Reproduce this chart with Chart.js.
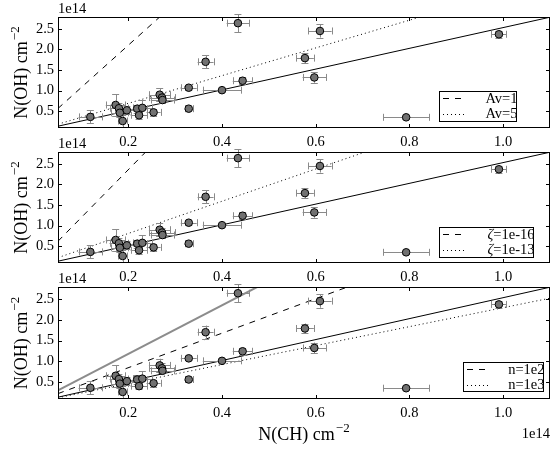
<!DOCTYPE html>
<html>
<head>
<meta charset="utf-8">
<script src="https://cdn.jsdelivr.net/npm/chart.js@4.4.0/dist/chart.umd.min.js"></script>
<style>
  body { margin: 0; background: #fff; }
  #wrap { position: relative; width: 555px; height: 451px; }
  canvas { position: absolute; left: 0; top: 0; }
</style>
</head>
<body>
<div id="wrap">
  <canvas id="c1" width="555" height="451"></canvas>
  <canvas id="c2" width="555" height="451"></canvas>
  <canvas id="c3" width="555" height="451"></canvas>
</div>
<script>
// ===== DATA (both axes in units of 1e14 cm^-2) =====
const nCH   = [0.119, 0.173, 0.180, 0.182, 0.188, 0.197, 0.219, 0.223, 0.230, 0.254, 0.267, 0.272,
               0.273, 0.329, 0.329, 0.365, 0.400, 0.434, 0.444, 0.577, 0.597, 0.609, 0.793, 0.991];
const nOH   = [0.36, 0.65, 0.57, 0.46, 0.26, 0.52, 0.56, 0.40, 0.58, 0.47, 0.90, 0.83,
               0.77, 1.07, 0.56, 1.70, 1.01, 2.64, 1.24, 1.79, 1.32, 2.45, 0.35, 2.37];
const errCH = [0.025, 0.021, 0.020, 0.018, 0.010, 0.025, 0.020, 0.018, 0.020, 0.015, 0.023, 0.027,
               0.025, 0.017, 0.009, 0.017, 0.041, 0.024, 0.021, 0.019, 0.025, 0.025, 0.049, 0.016];
const errOH = [0.16, 0.26, 0.12, 0.10, 0.15, 0.10, 0.10, 0.08, 0.18, 0.08, 0.16, 0.12,
               0.06, 0.05, 0.03, 0.16, 0.03, 0.22, 0.08, 0.12, 0.13, 0.16, 0.03, 0.09];

const xTicks = [0.2, 0.4, 0.6, 0.8, 1.0];
const yTicks = [0.5, 1.0, 1.5, 2.0, 2.5];

// model lines, end points
const fitLine    = [{ x: 0.05, y: 0.134 }, { x: 1.1, y: 2.785 }];
const av1Line    = [{ x: 0.05, y: 0.566 }, { x: 0.268, y: 2.8 }];
const av5Line    = [{ x: 0.05, y: 0.183 }, { x: 0.826, y: 2.8 }];
const zeta16Line = [{ x: 0.05, y: 0.62 }, { x: 0.238, y: 2.8 }];
const zeta13Line = [{ x: 0.05, y: 0.22 }, { x: 0.708, y: 2.8 }];
const grayLine   = [{ x: 0.05, y: 0.30 }, { x: 0.477, y: 2.8 }];
const n1e2Line   = [{ x: 0.05, y: 0.22 }, { x: 0.67, y: 2.8 }];
const n1e3Line   = [{ x: 0.05, y: 0.12 }, { x: 1.1, y: 2.52 }];

const legendTop = ['Av=1', 'Av=5'];
const legendMid = ['=1e-16', '=1e-13'];
const legendBot = ['n=1e2', 'n=1e3'];

const FONT = '"Liberation Serif", "Times New Roman", serif';
const DASH = [6, 6];
const DOT = [1, 3];

// ===== PLUGIN: frame, inward ticks, error bars, texts, legend =====
function drawSup(ctx, main, sup, x, y) {
    ctx.font = `18px ${FONT}`;
    const w1 = ctx.measureText(main).width;
    ctx.font = `13px ${FONT}`;
    const w2 = ctx.measureText(sup).width;
    const start = x - (w1 + w2 + 1) / 2;
    ctx.textAlign = 'left';
    ctx.font = `18px ${FONT}`;
    ctx.fillText(main, start, y);
    ctx.font = `13px ${FONT}`;
    ctx.fillText(sup, start + w1 + 1, y - 8);
}

const panelPlugin = {
    id: 'panel',
    beforeDatasetDraw(chart, args) {
        if (args.index !== 0) return;
        const ctx = chart.ctx;
        const xs = chart.scales.x, ys = chart.scales.y;
        ctx.save();
        ctx.strokeStyle = '#8a8a8a';
        ctx.lineWidth = 1;
        const cap = 3.5;
        nCH.forEach((v, i) => {
            const px = xs.getPixelForValue(v), py = ys.getPixelForValue(nOH[i]);
            const x0 = xs.getPixelForValue(v - errCH[i]), x1 = xs.getPixelForValue(v + errCH[i]);
            const y0 = ys.getPixelForValue(nOH[i] - errOH[i]), y1 = ys.getPixelForValue(nOH[i] + errOH[i]);
            ctx.beginPath();
            ctx.moveTo(x0, Math.round(py) + 0.5); ctx.lineTo(x1, Math.round(py) + 0.5);
            ctx.moveTo(Math.round(x0) + 0.5, py - cap); ctx.lineTo(Math.round(x0) + 0.5, py + cap);
            ctx.moveTo(Math.round(x1) + 0.5, py - cap); ctx.lineTo(Math.round(x1) + 0.5, py + cap);
            ctx.moveTo(Math.round(px) + 0.5, y0); ctx.lineTo(Math.round(px) + 0.5, y1);
            ctx.moveTo(px - cap, Math.round(y0) + 0.5); ctx.lineTo(px + cap, Math.round(y0) + 0.5);
            ctx.moveTo(px - cap, Math.round(y1) + 0.5); ctx.lineTo(px + cap, Math.round(y1) + 0.5);
            ctx.stroke();
        });
        ctx.restore();
    },
    afterDraw(chart) {
        const ctx = chart.ctx;
        const { left, right, top, bottom } = chart.chartArea;
        const xs = chart.scales.x, ys = chart.scales.y;
        const cfg = chart.options.plugins.panel;
        ctx.save();
        ctx.strokeStyle = '#000';
        ctx.fillStyle = '#000';
        ctx.lineWidth = 1;
        ctx.strokeRect(left + 0.5, top + 0.5, right - left - 1, bottom - top - 1);

        // inward ticks on all four sides
        const tl = 4;
        ctx.beginPath();
        xTicks.forEach(v => {
            const p = Math.round(xs.getPixelForValue(v)) + 0.5;
            ctx.moveTo(p, bottom); ctx.lineTo(p, bottom - tl);
            ctx.moveTo(p, top); ctx.lineTo(p, top + tl);
        });
        yTicks.forEach(v => {
            const p = Math.round(ys.getPixelForValue(v)) + 0.5;
            ctx.moveTo(left, p); ctx.lineTo(left + tl, p);
            ctx.moveTo(right, p); ctx.lineTo(right - tl, p);
        });
        ctx.stroke();

        // offset text and axis titles
        ctx.font = `14.5px ${FONT}`;
        ctx.textAlign = 'left';
        ctx.textBaseline = 'alphabetic';
        ctx.fillText('1e14', left, top - 4);

        ctx.save();
        ctx.translate(27, (top + bottom) / 2);
        ctx.rotate(-Math.PI / 2);
        drawSup(ctx, 'N(OH) cm', '\u22122', 0, 0);
        ctx.restore();

        if (cfg.xTitle) {
            drawSup(ctx, 'N(CH) cm', '\u22122', (left + right) / 2, 440);
            ctx.font = `14.5px ${FONT}`;
            ctx.textAlign = 'right';
            ctx.fillText('1e14', right, 438);
        }

        // legend box
        const b = cfg.box;
        ctx.fillStyle = '#fff';
        ctx.fillRect(b.l, b.t, b.r - b.l, b.b - b.t);
        ctx.strokeStyle = '#000';
        ctx.strokeRect(b.l + 0.5, b.t + 0.5, b.r - b.l, b.b - b.t);
        ctx.fillStyle = '#000';
        cfg.labels.forEach((lab, i) => {
            const ly = b.t + 7 + i * 15.5;
            ctx.beginPath();
            ctx.setLineDash(i === 0 ? DASH : DOT);
            ctx.moveTo(b.l + 4, Math.round(ly) + 0.5);
            ctx.lineTo(b.l + 25, Math.round(ly) + 0.5);
            ctx.stroke();
            ctx.setLineDash([]);
            const base = b.t + 11.5 + i * 15.5;
            ctx.font = `14.5px ${FONT}`;
            ctx.textAlign = 'right';
            ctx.fillText(lab, b.r + 1.5, base);
            if (cfg.zeta) {
                const w = ctx.measureText(lab).width;
                ctx.font = `italic 14.5px ${FONT}`;
                ctx.fillText('\u03b6', b.r + 1.5 - w, base);
            }
        });
        ctx.restore();
    }
};

function makePanel(id, top, bottom, lines, panelCfg) {
    const datasets = [{
        type: 'scatter',
        data: nCH.map((v, i) => ({ x: v, y: nOH[i] })),
        pointRadius: 3.8,
        pointBackgroundColor: '#717171',
        pointBorderColor: '#000',
        pointBorderWidth: 1
    }];
    lines.forEach(l => datasets.push({
        type: 'line',
        data: l.data,
        borderColor: l.color || '#000',
        borderWidth: l.width || 1,
        borderDash: l.dash || [],
        pointRadius: 0,
        fill: false
    }));

    return new Chart(document.getElementById(id), {
        data: { datasets },
        options: {
            responsive: false,
            animation: false,
            events: [],
            layout: { padding: { top: top, left: 0, right: 2, bottom: 0 } },
            plugins: {
                legend: { display: false },
                tooltip: { enabled: false },
                panel: panelCfg
            },
            scales: {
                x: {
                    type: 'linear',
                    min: 0.05, max: 1.1,
                    grid: { display: false, drawTicks: false },
                    border: { display: false },
                    afterBuildTicks: s => { s.ticks = xTicks.map(v => ({ value: v })); },
                    afterFit: s => { s.height = 451 - bottom; },
                    ticks: {
                        color: '#000', padding: 5, maxRotation: 0,
                        font: { family: FONT, size: 14.5 },
                        callback: v => v.toFixed(1)
                    }
                },
                y: {
                    type: 'linear',
                    min: 0.09, max: 2.79,
                    grid: { display: false, drawTicks: false },
                    border: { display: false },
                    afterBuildTicks: s => { s.ticks = yTicks.map(v => ({ value: v })); },
                    afterFit: s => { s.width = 58; },
                    ticks: {
                        color: '#000', padding: 4,
                        font: { family: FONT, size: 14.5 },
                        callback: v => v.toFixed(1)
                    }
                }
            }
        },
        plugins: [panelPlugin]
    });
}

makePanel('c1', 17, 128, [
    { data: fitLine },
    { data: av1Line, dash: DASH },
    { data: av5Line, dash: DOT }
], { labels: legendTop, box: { l: 439, t: 91, r: 516, b: 121 } });

makePanel('c2', 152, 263, [
    { data: fitLine },
    { data: zeta16Line, dash: DASH },
    { data: zeta13Line, dash: DOT }
], { labels: legendMid, zeta: true, box: { l: 439, t: 227, r: 533, b: 257 } });

makePanel('c3', 287, 399, [
    { data: grayLine, color: '#8c8c8c', width: 2 },
    { data: n1e2Line, dash: DASH },
    { data: fitLine },
    { data: n1e3Line, dash: DOT }
], { labels: legendBot, xTitle: true, box: { l: 463, t: 362, r: 543, b: 391 } });
</script>
</body>
</html>
